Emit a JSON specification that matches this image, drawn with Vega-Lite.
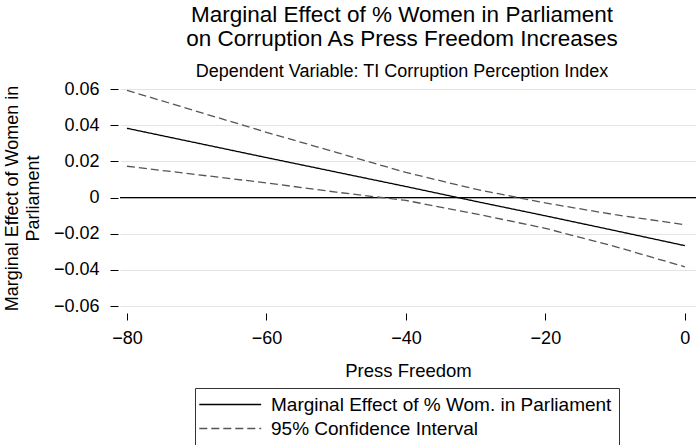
{
  "$schema": "https://vega.github.io/schema/vega-lite/v6.json",
  "width": 576,
  "height": 228,
  "autosize": {"type": "none"},
  "padding": {"left": 120, "top": 84, "right": 0, "bottom": 133},
  "background": "white",
  "config": {
    "font": "Liberation Sans",
    "view": {"stroke": null},
    "axis": {"labelFont": "Liberation Sans", "titleFont": "Liberation Sans", "labelColor": "#000", "titleColor": "#000", "tickColor": "#000", "titleFontWeight": "normal"}
  },
  "title": {
    "text": ["Marginal Effect of % Women in Parliament", "on Corruption As Press Freedom Increases"],
    "subtitle": "Dependent Variable: TI Corruption Perception Index",
    "fontSize": 22.5,
    "fontWeight": "normal",
    "lineHeight": 24,
    "subtitleFontSize": 18,
    "subtitleColor": "#000",
    "subtitlePadding": 13,
    "offset": -1,
    "dx": -6,
    "anchor": "middle",
    "font": "Liberation Sans",
    "subtitleFont": "Liberation Sans"
  },
  "datasets": {
    "lines": [
      {"press": -80, "effect": 0.0383, "series": "Marginal Effect of % Wom. in Parliament", "band": "main"},
      {"press": -70, "effect": 0.0302, "series": "Marginal Effect of % Wom. in Parliament", "band": "main"},
      {"press": -60, "effect": 0.0221, "series": "Marginal Effect of % Wom. in Parliament", "band": "main"},
      {"press": -50, "effect": 0.0141, "series": "Marginal Effect of % Wom. in Parliament", "band": "main"},
      {"press": -40, "effect": 0.0061, "series": "Marginal Effect of % Wom. in Parliament", "band": "main"},
      {"press": -30, "effect": -0.0021, "series": "Marginal Effect of % Wom. in Parliament", "band": "main"},
      {"press": -20, "effect": -0.0101, "series": "Marginal Effect of % Wom. in Parliament", "band": "main"},
      {"press": -10, "effect": -0.0183, "series": "Marginal Effect of % Wom. in Parliament", "band": "main"},
      {"press": 0, "effect": -0.0266, "series": "Marginal Effect of % Wom. in Parliament", "band": "main"},
      {"press": -80, "effect": 0.0593, "series": "95% Confidence Interval", "band": "upper"},
      {"press": -70, "effect": 0.0477, "series": "95% Confidence Interval", "band": "upper"},
      {"press": -60, "effect": 0.0361, "series": "95% Confidence Interval", "band": "upper"},
      {"press": -50, "effect": 0.0250, "series": "95% Confidence Interval", "band": "upper"},
      {"press": -40, "effect": 0.0139, "series": "95% Confidence Interval", "band": "upper"},
      {"press": -30, "effect": 0.0046, "series": "95% Confidence Interval", "band": "upper"},
      {"press": -20, "effect": -0.0030, "series": "95% Confidence Interval", "band": "upper"},
      {"press": -10, "effect": -0.0095, "series": "95% Confidence Interval", "band": "upper"},
      {"press": 0, "effect": -0.0150, "series": "95% Confidence Interval", "band": "upper"},
      {"press": -80, "effect": 0.0173, "series": "95% Confidence Interval", "band": "lower"},
      {"press": -70, "effect": 0.0127, "series": "95% Confidence Interval", "band": "lower"},
      {"press": -60, "effect": 0.0081, "series": "95% Confidence Interval", "band": "lower"},
      {"press": -50, "effect": 0.0030, "series": "95% Confidence Interval", "band": "lower"},
      {"press": -40, "effect": -0.0016, "series": "95% Confidence Interval", "band": "lower"},
      {"press": -30, "effect": -0.0090, "series": "95% Confidence Interval", "band": "lower"},
      {"press": -20, "effect": -0.0170, "series": "95% Confidence Interval", "band": "lower"},
      {"press": -10, "effect": -0.0271, "series": "95% Confidence Interval", "band": "lower"},
      {"press": 0, "effect": -0.0383, "series": "95% Confidence Interval", "band": "lower"}
    ],
    "zero": [{"effect": 0}]
  },
  "layer": [
    {
      "data": {"name": "zero"},
      "mark": {"type": "rule", "color": "#000", "strokeWidth": 1.3},
      "encoding": {
        "y": {"field": "effect", "type": "quantitative", "scale": {"domain": [-0.0633, 0.0628], "nice": false, "zero": false}}
      }
    },
    {
      "data": {"name": "lines"},
      "mark": {"type": "line", "strokeWidth": 1.3, "clip": true},
      "encoding": {
        "x": {
          "field": "press", "type": "quantitative",
          "scale": {"domain": [-81, 1.6], "nice": false, "zero": false},
          "axis": {
            "title": "Press Freedom", "titleFontSize": 18.5, "titlePadding": 14,
            "values": [-80, -60, -40, -20, 0], "tickCount": 20, "grid": false, "domain": false,
            "tickSize": 7, "offset": 1, "labelFontSize": 18, "labelPadding": 9, "labelOverlap": false
          }
        },
        "y": {
          "field": "effect", "type": "quantitative",
          "scale": {"domain": [-0.0633, 0.0628], "nice": false, "zero": false},
          "axis": {
            "title": ["Marginal Effect of Women in", "Parliament"], "titleFontSize": 18, "titlePadding": 11, "titleLineHeight": 21,
            "values": [-0.06, -0.04, -0.02, 0, 0.02, 0.04, 0.06], "tickCount": 20,
            "labelExpr": "datum.value == 0 ? '0' : format(datum.value, '.2f')",
            "grid": true, "gridColor": "#e4e4e4", "gridWidth": 1, "domain": false, "labelOverlap": false,
            "tickSize": 8, "offset": 2, "labelFontSize": 18, "labelPadding": 11
          }
        },
        "detail": {"field": "band"},
        "color": {
          "field": "series", "type": "nominal",
          "scale": {"domain": ["Marginal Effect of % Wom. in Parliament", "95% Confidence Interval"], "range": ["#000000", "#555555"]},
          "legend": {
            "title": null, "orient": "none", "legendX": 75, "legendY": 304,
            "direction": "vertical", "labelFontSize": 19, "labelFont": "Liberation Sans", "labelColor": "#000", "labelLimit": 600,
            "symbolType": "M-2.36,0H9.6", "symbolSize": 107, "symbolStrokeWidth": 1.3,
            "strokeColor": "#333", "padding": 7, "rowPadding": 4, "labelOffset": 50
          }
        },
        "strokeDash": {
          "field": "series", "type": "nominal",
          "scale": {"domain": ["Marginal Effect of % Wom. in Parliament", "95% Confidence Interval"], "range": [[1, 0], [8, 4]]},
          "legend": {
            "title": null, "orient": "none", "legendX": 75, "legendY": 304,
            "direction": "vertical", "labelFontSize": 19, "labelFont": "Liberation Sans", "labelColor": "#000", "labelLimit": 600,
            "symbolType": "M-2.36,0H9.6", "symbolSize": 107, "symbolStrokeWidth": 1.3,
            "strokeColor": "#333", "padding": 7, "rowPadding": 4, "labelOffset": 50
          }
        }
      }
    }
  ]
}
